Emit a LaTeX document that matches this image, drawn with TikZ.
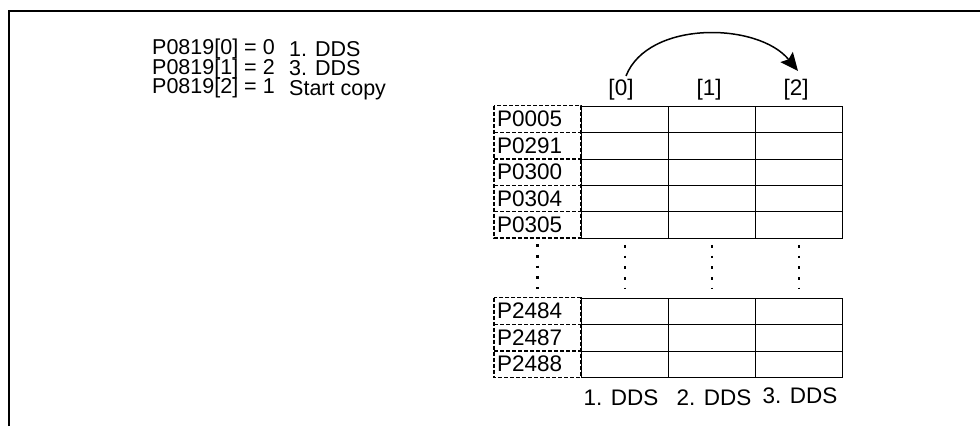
\documentclass[tikz,border=0pt]{standalone}
\usepackage{fontspec}
\setmainfont{Liberation Sans}
\usetikzlibrary{arrows.meta,calc}
\begin{document}
\begin{tikzpicture}[x=1pt,y=-1pt,
  cell/.style={draw, line width=1.1pt, minimum width=87.1pt, minimum height=26.4pt, inner sep=0pt, anchor=north west},
  labelcell/.style={minimum width=86.7pt, minimum height=26.4pt, text width=80.7pt, inner xsep=3pt, inner ysep=0pt, align=left, anchor=north west, font=\fontsize{22.5}{25}\selectfont},
  dashline/.style={line width=1.4pt, dash pattern=on 4pt off 2pt},
  big/.style={font=\fontsize{22.5}{25}\selectfont, inner sep=0pt},
  small/.style={font=\fontsize{21.5}{24}\selectfont, inner sep=0pt, anchor=base west},
  dotline/.style={line width=2.6pt, dash pattern=on 2.6pt off 8.1pt},
  frame/.style={line width=2pt}]
\useasboundingbox (0,0) rectangle (980,426);
% frame
\draw[frame] (9,426) -- (9,11) -- (980,11);
% left text
\node[small] (a0) at (152,54.5) {P0819[0] = 0};
\node[small] (a1) at (152,74) {P0819[1] = 2};
\node[small] (a2) at (152,93.5) {P0819[2] = 1};
\node[small] (b0) at (289,56) {1. DDS};
\node[small] (b1) at (289,75.5) {3. DDS};
\node[small] (b2) at (289,95) {Start copy};
% headers
\node[big, inner sep=3.33pt] (h0) at (621,90) {[0]};
\node[big, inner sep=3.33pt] (h1) at (709,90) {[1]};
\node[big, inner sep=3.33pt] (h2) at (796,90) {[2]};
% upper table
\foreach \lab [count=\i from 0] in {P0005,P0291,P0300,P0304,P0305} {
  \node[labelcell] (ul\i) at (494,105.7+26.4*\i) {\lab};
  \foreach \c in {0,1,2} \node[cell] (u\i c\c) at (580.7+87.1*\c,105.7+26.4*\i) {};
}
\draw[dashline] (ul0.north west) rectangle (ul4.south east);
\foreach \i in {0,1,2,3} \draw[dashline] (ul\i.south west) -- (ul\i.south east);
% lower table
\foreach \lab [count=\i from 0] in {P2484,P2487,P2488} {
  \node[labelcell] (ll\i) at (494,297.7+26.4*\i) {\lab};
  \foreach \c in {0,1,2} \node[cell] (l\i c\c) at (580.7+87.1*\c,297.7+26.4*\i) {};
}
\draw[dashline] (ll0.north west) rectangle (ll2.south east);
\foreach \i in {0,1} \draw[dashline] (ll\i.south west) -- (ll\i.south east);
% dots
\draw[dotline] ($(ul4.south)+(0,6.1)$) -- ($(ll0.north)+(0,-8.6)$);
\foreach \c in {0,1,2}
  \draw[dotline] ($(u4c\c.south)+(0,6.1)$) -- ($(l0c\c.north)+(0,-8.6)$);
% bottom labels
\node[big, anchor=base] (d1) at (621,405) {1. DDS};
\node[big, anchor=base] (d2) at (714,405) {2. DDS};
\node[big, anchor=base] (d3) at (800,403) {3. DDS};
% arc
\draw[line width=1.5pt, -{Stealth[length=18pt,width=16pt,inset=3pt]}]
  ([xshift=5pt]h0.north) .. controls (648,20) and (758,22) .. ([xshift=2pt,yshift=5pt]h2.north);
\end{tikzpicture}
\end{document}
